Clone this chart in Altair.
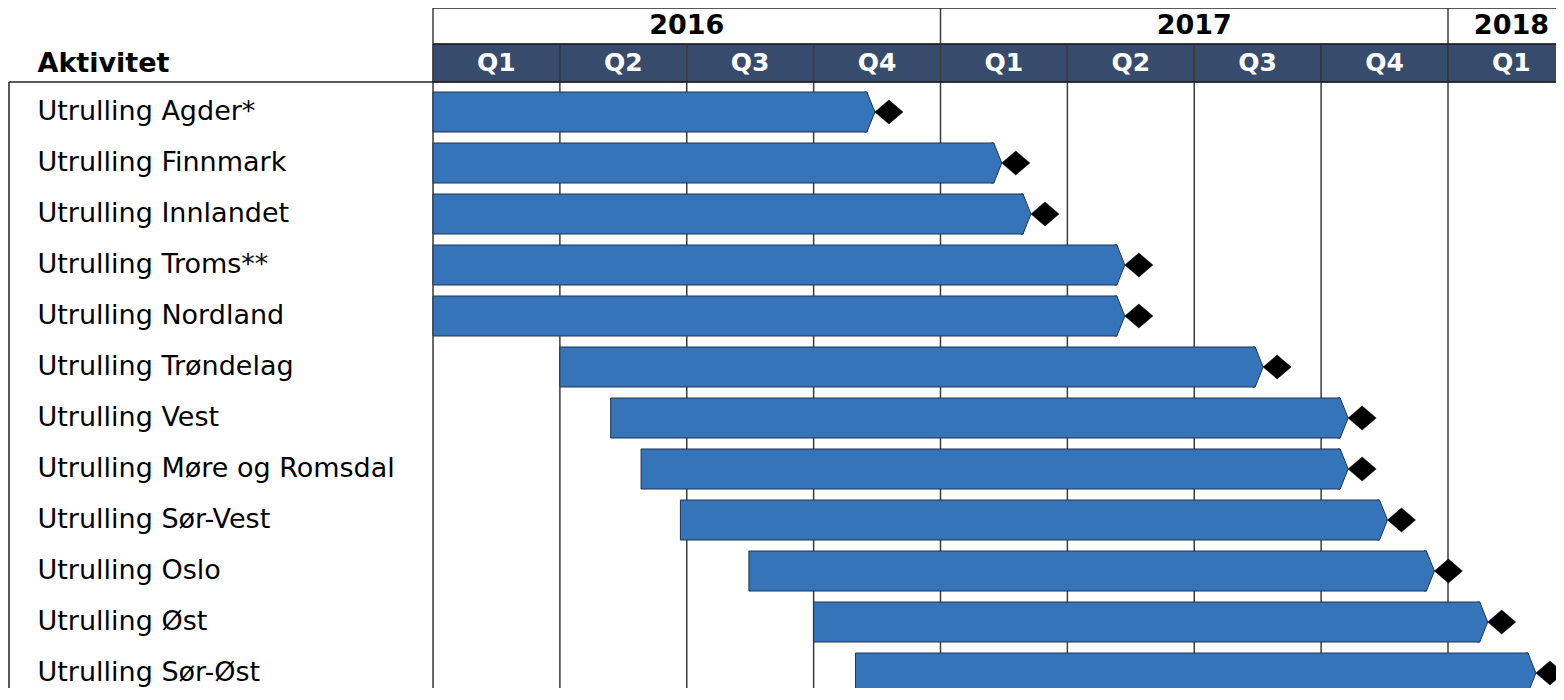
import altair as alt
import pandas as pd

# ---------------- data ----------------
activities = [
    "Utrulling Agder*",
    "Utrulling Finnmark",
    "Utrulling Innlandet",
    "Utrulling Troms**",
    "Utrulling Nordland",
    "Utrulling Trøndelag",
    "Utrulling Vest",
    "Utrulling Møre og Romsdal",
    "Utrulling Sør-Vest",
    "Utrulling Oslo",
    "Utrulling Øst",
    "Utrulling Sør-Øst",
]
# positions in quarters, counted from the start of 2016 Q1
start_q = [0.0, 0.0, 0.0, 0.0, 0.0, 1.0, 1.40, 1.64, 1.95, 2.49, 3.0, 3.33]
end_q = [3.42, 4.42, 4.65, 5.39, 5.39, 6.48, 7.15, 7.15, 7.46, 7.83, 8.25, 8.63]

quarter_labels = ["Q1", "Q2", "Q3", "Q4", "Q1", "Q2", "Q3", "Q4", "Q1"]
quarter_start = [0, 1, 2, 3, 4, 5, 6, 7, 8]

year_labels = ["2016", "2017", "2018"]
year_start = [0, 4, 8]
year_end = [4, 8, 9]

# ---------------- tables ----------------
tasks = pd.DataFrame({"Aktivitet": activities, "Start": start_q, "Slutt": end_q})
quarters = pd.DataFrame({"Kvartal": quarter_labels, "Fra": quarter_start,
                         "Til": [q + 1 for q in quarter_start]})
quarters["Midt"] = (quarters["Fra"] + quarters["Til"]) / 2
years = pd.DataFrame({"Aar": year_labels, "Fra": year_start, "Til": year_end})
years["Midt"] = (years["Fra"] + years["Til"]) / 2
one = pd.DataFrame({"k": [0]})

# ---------------- style ----------------
FONT = "DejaVu Sans"
HEAD = "#374c6c"
BAR = "#3674b9"
BAR_STROKE = "#1f3550"
GRID = "#3c3c3c"
W = 1123
H = 606
PAD_L = 425
PAD_T = 74
Q_PX = 126.875
XMAX = W / Q_PX

XS = alt.Scale(domain=[0, XMAX], nice=False, zero=False)

# header: quarter cells
q_rect = alt.Chart(quarters).mark_rect(fill=HEAD, stroke="#1c2433", strokeWidth=1).encode(
    x=alt.X("Fra:Q", scale=XS, axis=None), x2="Til:Q",
    y=alt.value(-38), y2=alt.value(0))
q_text = alt.Chart(quarters).mark_text(font=FONT, fontSize=25, fontWeight="bold",
                                       color="white", baseline="middle").encode(
    x=alt.X("Midt:Q", scale=XS, axis=None), y=alt.value(-19), text="Kvartal:N")
y_text = alt.Chart(years).mark_text(font=FONT, fontSize=27, fontWeight="bold",
                                    color="black", baseline="middle").encode(
    x=alt.X("Midt:Q", scale=XS, axis=None), y=alt.value(-56), text="Aar:N")

# vertical grid lines
q_grid = alt.Chart(quarters).mark_rule(color=GRID, strokeWidth=1.5).encode(
    x=alt.X("Fra:Q", scale=XS, axis=None), y=alt.value(-38), y2=alt.value(1000))
y_grid = alt.Chart(years).mark_rule(color=GRID, strokeWidth=1.5).encode(
    x=alt.X("Fra:Q", scale=XS, axis=None), y=alt.value(-74), y2=alt.value(-38))

# frame lines
top_line = alt.Chart(one).mark_rule(color="#222222", strokeWidth=1.5).encode(
    x=alt.value(0), x2=alt.value(W + 10), y=alt.value(-74))
mid_line = alt.Chart(one).mark_rule(color="#222222", strokeWidth=1.5).encode(
    x=alt.value(0), x2=alt.value(W + 10), y=alt.value(-38))
bot_line = alt.Chart(one).mark_rule(color="#222222", strokeWidth=1.5).encode(
    x=alt.value(-PAD_L + 1), x2=alt.value(W + 10), y=alt.value(0))
left_line = alt.Chart(one).mark_rule(color="#222222", strokeWidth=1.5).encode(
    x=alt.value(-PAD_L + 1), y=alt.value(0), y2=alt.value(1000))

# bars
Y = alt.Y("Aktivitet:N", sort=None,
          scale=alt.Scale(range=[4.5, 4.5 + 51 * len(activities)], paddingInner=0, paddingOuter=0),
          axis=alt.Axis(title="Aktivitet", titleAngle=0, titleAlign="left", titleBaseline="middle",
                        titleX=-396, titleY=-19, titleFont=FONT, titleFontSize=27,
                        titleFontWeight="bold", titleColor="black",
                        labelAlign="left", labelBaseline="middle", labelPadding=396,
                        labelFont=FONT, labelFontSize=27, labelColor="black", labelLimit=1000,
                        ticks=False, tickSize=0, domain=False, grid=False))

bars = alt.Chart(tasks).mark_bar(height=40, fill=BAR, stroke=BAR_STROKE, strokeWidth=1,
                                 cornerRadius=0).encode(
    x=alt.X("Start:Q", scale=XS, axis=None), x2="Slutt:Q", y=Y)

tips = alt.Chart(tasks).mark_point(
    shape="M -0.12 -1 L 0 -1 L 0.4 0 L 0 1 L -0.12 1",
    size=1600, filled=True, fill=BAR, stroke=BAR_STROKE, strokeWidth=1, opacity=1).encode(
    x=alt.X("Slutt:Q", scale=XS, axis=None), y=Y)

diamonds = alt.Chart(tasks).mark_point(
    shape="M 0 -0.857 L 1 0 L 0 0.857 L -1 0 Z",
    size=784, filled=True, fill="black", stroke="black", strokeWidth=0.5, opacity=1,
    xOffset=22).encode(
    x=alt.X("Slutt:Q", scale=XS, axis=None), y=Y)

chart = alt.layer(
    q_rect, q_grid, y_grid, top_line, mid_line, bot_line, left_line,
    y_text, q_text, bars, tips, diamonds
).properties(
    width=W, height=H,
    autosize=alt.AutoSizeParams(type="none"),
    padding={"left": PAD_L, "top": PAD_T, "right": 0, "bottom": 0},
).configure_view(stroke="transparent").configure(font=FONT)

chart.save("out.html", embed_options={"renderer": "svg", "actions": False})
